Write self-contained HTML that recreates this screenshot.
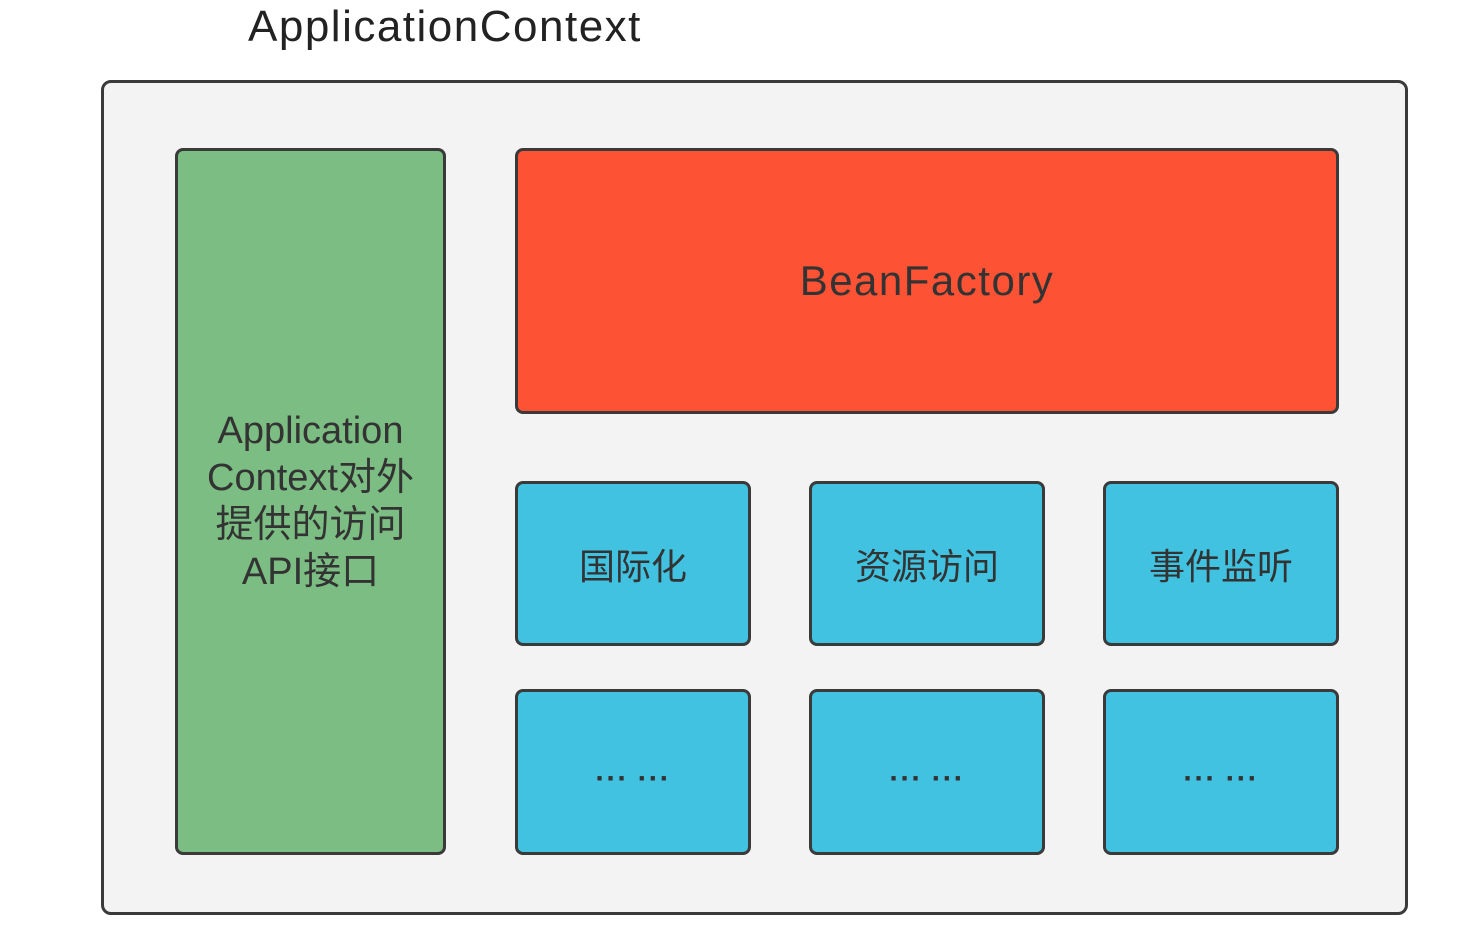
<!DOCTYPE html>
<html><head><meta charset="utf-8"><style>
body{margin:0;width:1470px;height:952px;background:#fff;position:relative;overflow:hidden;font-family:"Liberation Sans","Noto Sans CJK SC",sans-serif;color:#333}
.b{position:absolute;box-sizing:border-box;border:3px solid #3a3a3a;border-radius:8px;display:flex;align-items:center;justify-content:center;text-align:center}
.c{background:#40c2e0;font-size:36px}
.d{font-size:30px;font-weight:bold;padding-top:14px;letter-spacing:1px}
</style></head><body>
<div style="position:absolute;left:248px;top:2px;font-size:44px;color:#222;letter-spacing:1.5px">ApplicationContext</div>
<div class="b" style="left:101px;top:80px;width:1307px;height:835px;background:#f3f3f3;border-radius:10px"></div>
<div class="b" style="left:175px;top:148px;width:271px;height:707px;background:#7bbd82;font-size:38px;line-height:47px">Application<br>Context对外<br>提供的访问<br>API接口</div>
<div class="b" style="left:515px;top:148px;width:824px;height:266px;background:#fe5234;font-size:42px;letter-spacing:1.5px">BeanFactory</div>
<div class="b c" style="left:515px;top:481px;width:236px;height:165px">国际化</div>
<div class="b c" style="left:809px;top:481px;width:236px;height:165px">资源访问</div>
<div class="b c" style="left:1103px;top:481px;width:236px;height:165px">事件监听</div>
<div class="b c d" style="left:515px;top:689px;width:236px;height:166px">··· ···</div>
<div class="b c d" style="left:809px;top:689px;width:236px;height:166px">··· ···</div>
<div class="b c d" style="left:1103px;top:689px;width:236px;height:166px">··· ···</div>
</body></html>
